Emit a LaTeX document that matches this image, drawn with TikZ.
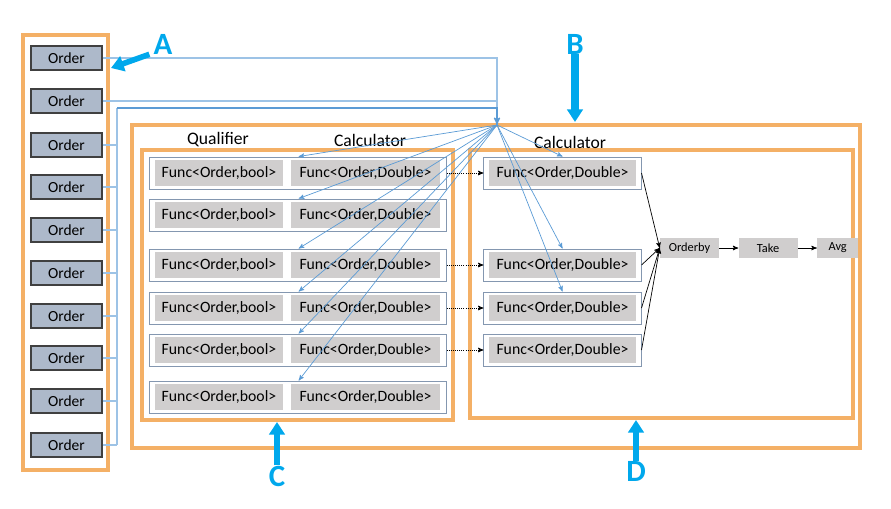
\documentclass[tikz,border=0pt]{standalone}
\usepackage{fontspec}
\setmainfont{Carlito}
\usetikzlibrary{arrows,arrows.meta,positioning}
\definecolor{frameorange}{HTML}{F4B066}
\definecolor{tagblue}{HTML}{00A8EC}
\definecolor{feedblue}{HTML}{9DC3E6}
\definecolor{fanblue}{HTML}{5B9BD5}
\definecolor{orderfill}{HTML}{ADB9CA}
\definecolor{orderline}{HTML}{404040}
\definecolor{rowline}{HTML}{8497B0}
\definecolor{funcgray}{HTML}{D0CECE}

\begin{document}
\begin{tikzpicture}[x=0.025cm,y=-0.025cm,>=stealth',
    frame/.style={draw=frameorange,line width=2.2pt},
    order/.style={draw=orderline,fill=orderfill,line width=0.8pt,minimum width=1.775cm,minimum height=0.6cm,inner sep=0pt,font=\fontsize{11}{13}\selectfont},
    rowbox/.style={draw=rowline,fill=white,line width=0.7pt,minimum height=0.8cm,inner sep=0pt},
    func/.style={fill=funcgray,minimum height=0.65cm,inner sep=0pt,font=\fontsize{11.2}{13}\selectfont},
    stage/.style={fill=funcgray,minimum height=0.5cm,inner sep=0pt,font=\fontsize{8.8}{10}\selectfont},
    head/.style={font=\fontsize{12.5}{14}\selectfont},
    tag/.style={text=tagblue,inner sep=0pt,font=\fontsize{22}{24}\selectfont\bfseries},
    callout/.style={draw=tagblue,line width=4pt,-{Triangle[length=9pt,width=11pt]}},
    feed/.style={draw=feedblue,line width=0.8pt},
    busline/.style={draw=fanblue,line width=0.9pt},
    fan/.style={draw=fanblue,line width=0.5pt},
    pipe/.style={draw=black,densely dotted,line width=0.5pt},
    flow/.style={draw=black,line width=0.5pt}]
  \useasboundingbox (0,0) rectangle (891,508);
  \draw[frame] (23,35) rectangle (108,470);
  \draw[frame] (132,125) rectangle (860,448);
  \draw[frame] (142,150) rectangle (453,420);
  \draw[frame] (470,150) rectangle (853,418);
  \node[head] (qual) at (218,140) {Qualifier};
  \node[head] (calc) at (370,140) {Calculator};
  \node[head] (calcd) at (570,142) {Calculator};
  \foreach \y [count=\i] in {58,101,145,187,230,273,316,358,401,445}
    \node[order] (o\i) at (66.5,\y) {Order};
  \foreach \y [count=\i] in {173,215,265,308,350,397}{
    \node[rowbox,minimum width=7.4cm] (rc\i) at (298,\y) {};
    \node[func,minimum width=3.2cm] (cb\i) at (219,\y) {Func<Order,bool>};
    \node[func,minimum width=3.725cm] (cd\i) at (365.5,\y) {Func<Order,Double>};
  }
  \foreach \y [count=\i] in {173,265,308,350}{
    \node[rowbox,minimum width=3.925cm] (rd\i) at (562.5,\y) {};
    \node[func,minimum width=3.675cm] (dd\i) at (562.5,\y) {Func<Order,Double>};
  }
  \node[stage,minimum width=1.475cm] (orderby) at (689.5,248) {Orderby};
  \node[stage,minimum width=1.475cm,right=0.475cm of orderby] (take) {Take};
  \node[stage,minimum width=1.025cm,right=0.475cm of take] (avg) {Avg};
  \coordinate (hub) at (497,125);
  \coordinate (bus) at (117,108);
  \draw[feed] (o1.east) -| (hub);
  \draw[feed] (o2.east) -- (o2.east -| hub);
  \foreach \i in {3,...,10}
    \draw[feed] (o\i.east) -- (o\i.east -| bus);
  \draw[feed] (bus) -- (o10.east -| bus);
  \draw[busline,->] (bus) -| (hub);
  \foreach \i in {1,...,6}
    \draw[fan,->] (hub) -- ([xshift=0.2cm]rc\i.north -| cd\i.west);
  \foreach \i in {1,2,3}
    \draw[fan,->] (hub) -- (rd\i.north);
  \foreach \i/\j in {1/1,3/2,4/3,5/4}
    \draw[pipe,->] (rc\i.east) -- (rd\j.west);
  \foreach \j in {1,...,4}
    \draw[flow,->] (rd\j.east) -- (orderby.west);
  \draw[flow,->] (orderby) -- (take);
  \draw[flow,->] (take) -- (avg);
  \node[tag] (la) at (163,44) {A};
  \node[tag] (lb) at (575,44) {B};
  \node[tag] (lc) at (277,476) {C};
  \node[tag] (ld) at (636,471) {D};
  \coordinate (atip) at (111,68);
  \coordinate (btip) at (575,122);
  \coordinate (ctip) at (277,422);
  \coordinate (dtip) at (636,420);
  \draw[callout] ([xshift=-0.1cm]la.south west) -- (atip);
  \draw[callout,line width=5.5pt] (lb.south) -- (btip);
  \draw[callout] (lc.north) -- (ctip);
  \draw[callout] (ld.north) -- (dtip);
\end{tikzpicture}
\end{document}
